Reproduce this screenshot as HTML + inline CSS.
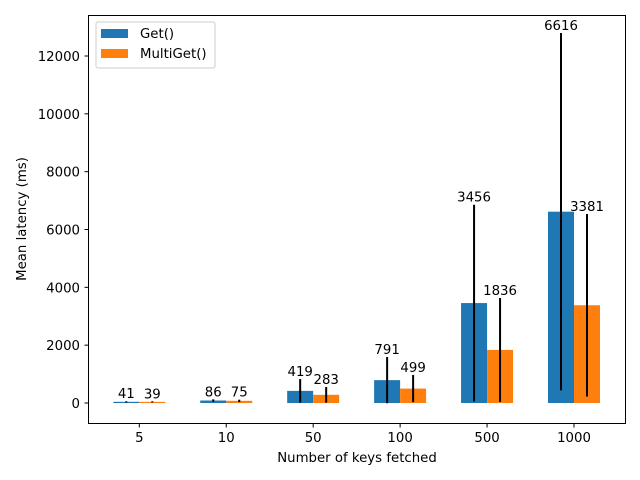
<!DOCTYPE html>
<html><head><meta charset="utf-8"><style>body{margin:0;background:#fff}svg{display:block;font-family:"DejaVu Sans","Liberation Sans",sans-serif}</style></head>
<body>
<svg id="chart" width="640" height="480" viewBox="0 0 640 480" xmlns="http://www.w3.org/2000/svg">
<rect x="0" y="0" width="640" height="480" fill="#fff"/>
<g id="plot"></g>
<rect x="88.5" y="15.5" width="537" height="408" fill="none" stroke="#000" stroke-width="1"/>
<g>
<rect x="96" y="22" width="119" height="46" rx="2" fill="#fff" fill-opacity="0.8" stroke="#ccc"/>
<rect x="101" y="29" width="27" height="9" fill="#1f77b4"/>
<text x="140" y="38" font-size="13.3" fill="#000">Get()</text>
<rect x="101" y="49" width="27" height="9" fill="#ff7f0e"/>
<text x="140" y="58" font-size="13.3" fill="#000">MultiGet()</text>
</g>
<text x="357" y="462" font-size="13.3" text-anchor="middle">Number of keys fetched</text>
<text transform="translate(26,219) rotate(-90)" font-size="13.3" text-anchor="middle">Mean latency (ms)</text>
</svg>
<script>
const categories = ["5","10","50","100","500","1000"];
const getMeans = [41,86,419,791,3456,6616];
const getErr = [20,40,410,800,3400,6180];
const multiMeans = [39,75,283,499,1836,3381];
const multiErr = [20,40,270,470,1795,3155];
const yTicks = [0,2000,4000,6000,8000,10000,12000];
const NS="http://www.w3.org/2000/svg";
const g=document.getElementById('plot');
function y(v){return 403-v*0.028917;}
function xc(i){return 139.3+i*86.94;}
const bw=26;
function mk(t,a){const e=document.createElementNS(NS,t);for(const k in a)e.setAttribute(k,a[k]);g.appendChild(e);return e;}
yTicks.forEach(v=>{
 const t=mk('line',{x1:84.5,x2:88.5,y1:y(v),y2:y(v),stroke:'#000'});
 
 
 const l=mk('text',{x:80,y:y(v)+5,'font-size':13.3,'text-anchor':'end'});l.textContent=v;
 
 
});
categories.forEach((c,i)=>{
 const x=xc(i);
 const t=mk('line',{x1:x,x2:x,y1:423.5,y2:427.5,stroke:'#000'});
 
 
 const l=mk('text',{x:x,y:442,'font-size':13.3,'text-anchor':'middle'});l.textContent=c;
 
 
 [[getMeans,getErr,'#1f77b4',x-bw,'get'],[multiMeans,multiErr,'#ff7f0e',x,'multiget']].forEach(([m,e,col,x0,nm])=>{
  const v=m[i],top=y(v),h=y(0)-top;
  const b=mk('rect',{x:x0,y:top,width:bw,height:Math.max(h,1),fill:col});
  
  
  const cx=x0+bw/2,et=y(v+e[i]);
  const eb=mk('line',{x1:cx,x2:cx,y1:et,y2:y(v-e[i]),stroke:'#000','stroke-width':2});
  
  
  const tx=mk('text',{x:cx,y:et-3,'font-size':13.3,'text-anchor':'middle'});tx.textContent=v;
  
  
 });
});
</script>
</body></html>
